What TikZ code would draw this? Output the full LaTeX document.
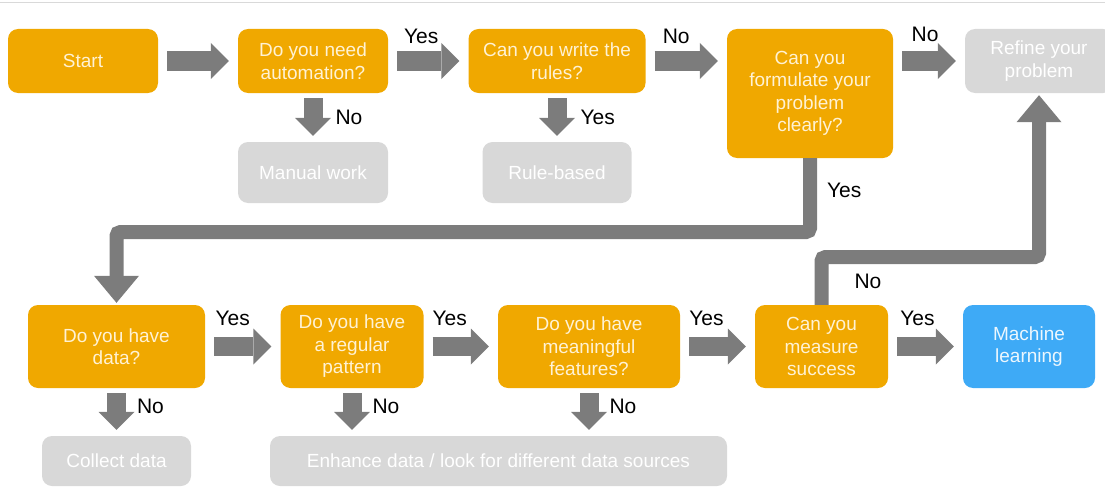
\documentclass[tikz,border=0pt]{standalone}
\usepackage{fontspec}
\setmainfont{Liberation Sans}
\usepackage{tikz}
\usetikzlibrary{shapes,arrows.meta,positioning,calc}

\definecolor{askorange}{RGB}{240,168,0}
\definecolor{asktext}{RGB}{255,242,212}
\definecolor{endgray}{RGB}{216,216,216}
\definecolor{mlblue}{RGB}{62,170,246}
\definecolor{arrowgray}{RGB}{124,124,124}

\newcommand{\boxfont}{\fontsize{19}{22.5}\selectfont}
\newcommand{\ansfont}{\fontsize{21}{25}\selectfont}

\tikzset{
  askbox/.style={rectangle, rounded corners=10pt, fill=askorange, text=asktext, font=\boxfont, align=center, inner sep=0pt},
  endbox/.style={rectangle, rounded corners=10pt, fill=endgray, text=white, font=\boxfont, align=center, inner sep=0pt},
  mlbox/.style={rectangle, rounded corners=10pt, fill=mlblue, text=white!90!mlblue, font=\boxfont, align=center, inner sep=0pt},
  fatarrow/.style={draw=arrowgray, line width=19pt, -{Triangle[width=36pt,length=18pt,line width=0pt]}, shorten <=9pt, shorten >=9pt},
  downarrow/.style={fatarrow, shorten <=5pt, shorten >=6pt},
  flowline/.style={draw=arrowgray, line width=14pt, rounded corners=4pt, -{Triangle[width=45pt,length=27pt,line width=0pt]}, shorten >=2pt},
  ans/.style={font=\ansfont, text=black, inner sep=0pt}
}

\begin{document}
\begin{tikzpicture}[x=1pt, y=-1pt]
    \useasboundingbox (0,0) rectangle (1105,487);
    \draw[gray!30, line width=1.2pt] (0,2.5) -- (1105,2.5);

    % first row
    \node[askbox, minimum width=150pt, minimum height=64pt] (start) at (83,61) {Start};
    \node[askbox, right of=start, node distance=230pt, minimum width=150pt, minimum height=64pt] (automation) {Do you need\\automation?};
    \node[askbox, right of=automation, node distance=244pt, minimum width=177pt, minimum height=64pt] (rules) {Can you write the\\rules?};
    \node[askbox, minimum width=166pt, minimum height=129pt] (formulate) at (810,93.5) {Can you\\formulate your\\problem\\clearly?};
    \node[endbox, minimum width=148pt, minimum height=64pt] (refine) at (1039,61) {Refine your\\problem};
    \node[endbox, below of=automation, node distance=111.5pt, minimum width=150pt, minimum height=61pt] (manual) {Manual work};
    \node[endbox, below of=rules, node distance=111.5pt, minimum width=149pt, minimum height=61pt] (rulebased) {Rule-based};

    % second row
    \node[askbox, minimum width=177pt, minimum height=83pt] (data) at (116.5,346.5) {Do you have\\data?};
    \node[askbox, right of=data, node distance=235.5pt, minimum width=143pt, minimum height=83pt] (pattern) {Do you have\\a regular\\pattern};
    \node[askbox, right of=pattern, node distance=237pt, minimum width=182pt, minimum height=83pt] (features) {Do you have\\meaningful\\features?};
    \node[askbox, right of=features, node distance=232.5pt, minimum width=133pt, minimum height=83pt] (measure) {Can you\\measure\\success};
    \node[mlbox, right of=measure, node distance=207.5pt, minimum width=132pt, minimum height=83pt] (ml) {Machine\\learning};
    \node[endbox, below of=data, node distance=114.5pt, minimum width=149pt, minimum height=50pt] (collect) {Collect data};
    \node[endbox, minimum width=457pt, minimum height=50pt] (enhance) at (498.5,461) {Enhance data / look for different data sources};

    \coordinate (yesrow) at (0,232);
    \coordinate (norow) at (0,257);

    % arrows between boxes
    \draw[fatarrow] (start) -- (automation);
    \draw[fatarrow] (automation) -- node[ans, above=8pt, xshift=-7pt] {Yes} (rules);
    \draw[fatarrow] (rules.east) -- node[ans, above=8pt, xshift=-10pt] {No} (rules.east -| formulate.west);
    \draw[fatarrow] (formulate.east |- refine.west) -- node[ans, above=10pt, xshift=-4pt] {No} (refine.west);
    \draw[downarrow] (automation) -- node[ans, right=13pt] {No} (manual);
    \draw[downarrow] (rules) -- node[ans, right=14pt] {Yes} (rulebased);

    \draw[fatarrow] (data) -- node[ans, above=11pt, xshift=-10pt] {Yes} (pattern);
    \draw[fatarrow] (pattern) -- node[ans, above=11pt, xshift=-11pt] {Yes} (features);
    \draw[fatarrow] (features) -- node[ans, above=11pt, xshift=-11pt] {Yes} (measure);
    \draw[fatarrow] (measure) -- node[ans, above=11pt, xshift=-8pt] {Yes} (ml);
    \draw[downarrow] (data) -- node[ans, right=11pt, yshift=6pt] {No} (collect);
    \draw[downarrow] (pattern.south) -- node[ans, right=11pt, yshift=6pt] {No} (pattern.south |- enhance.north);
    \draw[downarrow] (features.south) -- node[ans, right=11pt, yshift=6pt] {No} (features.south |- enhance.north);

    % long connectors
    \draw[flowline] (formulate.south) -- node[ans, right=10pt, yshift=5pt] {Yes} (formulate.south |- yesrow) -| (data.north);
    \draw[flowline] (measure.north) -- node[ans, right=26pt] {No} (measure.north |- norow) -| (refine.south);
\end{tikzpicture}
\end{document}
